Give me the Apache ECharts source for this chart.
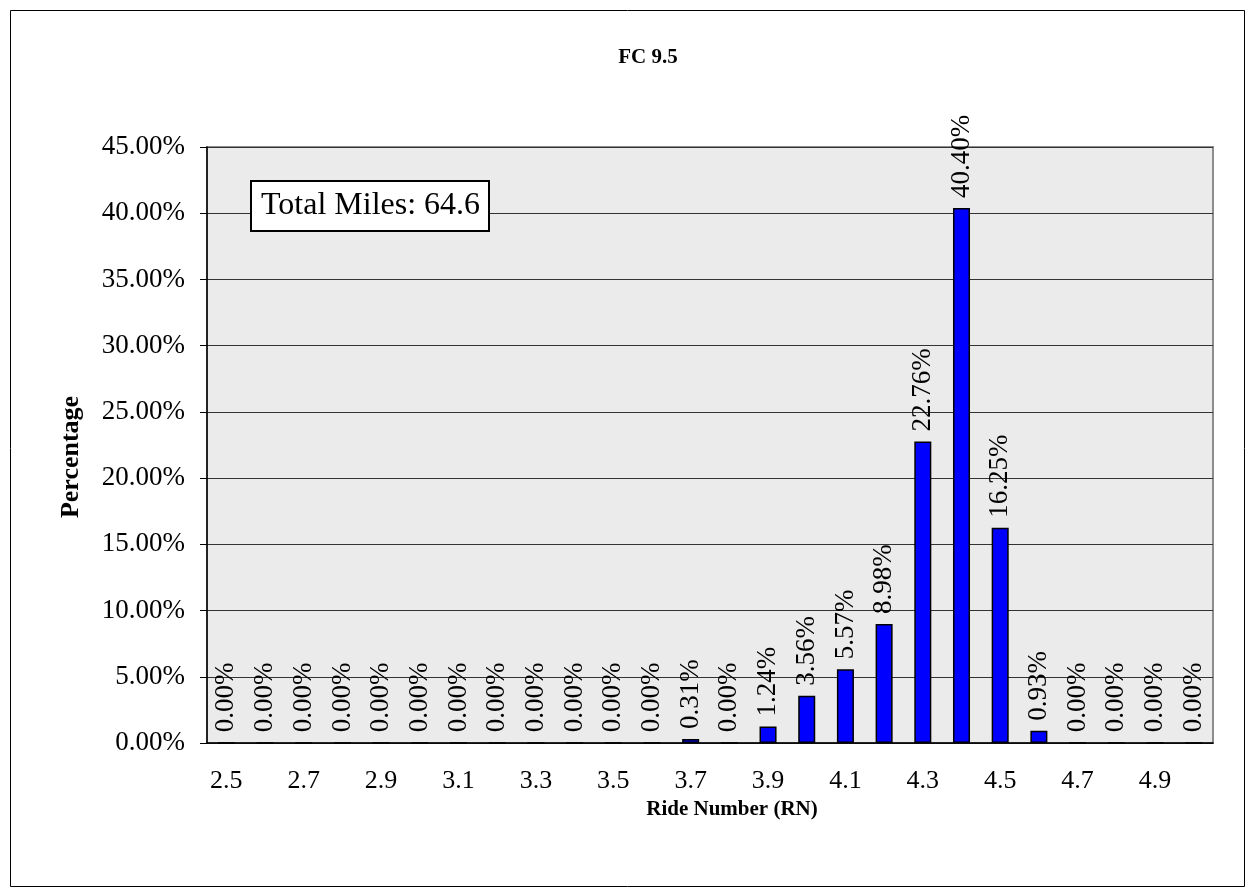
<!DOCTYPE html>
<html>
<head>
<meta charset="utf-8">
<script src="https://cdn.jsdelivr.net/npm/echarts@6/dist/echarts.min.js"></script>
<style>
  html, body { margin: 0; padding: 0; background: #fff; }
  #chart { width: 1255px; height: 896px; }
</style>
</head>
<body>
<div id="chart"></div>
<script>
// ride number bins
const rideNumbers = ['2.5', '2.6', '2.7', '2.8', '2.9', '3.0', '3.1', '3.2', '3.3', '3.4', '3.5', '3.6',
  '3.7', '3.8', '3.9', '4.0', '4.1', '4.2', '4.3', '4.4', '4.5', '4.6', '4.7', '4.8', '4.9', '5.0']
// percentage of miles per bin
const percentages = [0, 0, 0, 0, 0, 0, 0, 0, 0, 0, 0, 0,
  0.31, 0, 1.24, 3.56, 5.57, 8.98, 22.76, 40.40, 16.25, 0.93, 0, 0, 0, 0]
const yTicks = [0, 5, 10, 15, 20, 25, 30, 35, 40, 45]
const totalMiles = 64.6

const serif = 'Liberation Serif'
const chart = echarts.init(document.getElementById('chart'))

chart.setOption({
  animation: false,
  textStyle: { fontFamily: serif, color: '#000' },
  title: [
    {
      text: 'FC 9.5',
      left: 643,
      top: 42,
      textAlign: 'center',
      textStyle: { fontFamily: serif, fontSize: 21, fontWeight: 'bold', color: '#000' },
    },
    {
      text: 'Total Miles: ' + totalMiles,
      left: 251,
      top: 181,
      padding: [9, 9, 9, 10],
      backgroundColor: '#fff',
      borderColor: '#000',
      borderWidth: 2,
      textStyle: { fontFamily: serif, fontSize: 32, fontWeight: 'normal', color: '#000' },
    },
  ],
  graphic: [
    {
      type: 'rect',
      shape: { x: 10.5, y: 10.5, width: 1234, height: 876 },
      style: { fill: 'none', stroke: '#000', lineWidth: 1 },
      silent: true,
      z: -10,
    },
  ],
  grid: {
    left: 207, right: 42, top: 147, bottom: 153,
    show: true,
    backgroundColor: '#ebebeb',
    borderColor: '#8c8c8c',
    borderWidth: 2,
  },
  xAxis: {
    type: 'category',
    data: rideNumbers,
    name: 'Ride Number (RN)',
    nameLocation: 'middle',
    nameGap: 54,
    nameTextStyle: {
      fontFamily: serif, fontSize: 21, fontWeight: 'bold', color: '#000',
      padding: [0, 0, 0, 44],
    },
    axisLine: { lineStyle: { color: '#000', width: 1.5 } },
    axisTick: { inside: false, length: 6, lineStyle: { color: '#000' } },
    axisLabel: { interval: 1, margin: 25, fontFamily: serif, fontSize: 26, color: '#000' },
  },
  yAxis: {
    type: 'value',
    min: yTicks[0],
    max: yTicks[yTicks.length - 1],
    interval: 5,
    name: 'Percentage',
    nameLocation: 'middle',
    nameGap: 123,
    nameTextStyle: {
      fontFamily: serif, fontSize: 26, fontWeight: 'bold', color: '#000',
      padding: [0, 24, 0, 0],
    },
    axisLine: { show: true, lineStyle: { color: '#000', width: 1.5 } },
    axisTick: { show: true, length: 7, lineStyle: { color: '#000' } },
    axisLabel: {
      margin: 22, fontFamily: serif, fontSize: 27, color: '#000',
      formatter: v => v.toFixed(2) + '%',
    },
    splitLine: { lineStyle: { color: '#333', width: 1 } },
  },
  series: [
    {
      type: 'bar',
      data: percentages,
      barWidth: '44%',
      itemStyle: { color: '#0000ff', borderColor: '#000', borderWidth: 1.5 },
      label: {
        show: true,
        position: 'top',
        rotate: 90,
        align: 'left',
        verticalAlign: 'middle',
        distance: 10,
        fontFamily: serif,
        fontSize: 27,
        color: '#000',
        formatter: p => p.value.toFixed(2) + '%',
      },
    },
  ],
})
</script>
</body>
</html>
